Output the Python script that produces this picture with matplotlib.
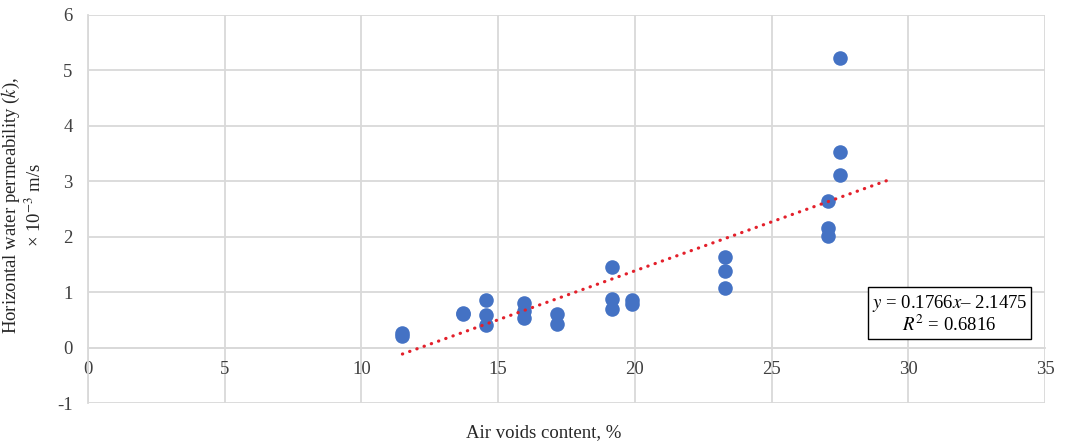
import numpy as np
import matplotlib
matplotlib.use("Agg")
import matplotlib.pyplot as plt

# Air voids content (%) and horizontal permeability (x 10^-3 m/s)
air_voids = [11.5, 11.5, 13.7, 13.7, 14.55, 14.55, 14.55, 15.95, 15.95, 15.95,
             17.15, 17.15, 19.15, 19.15, 19.15, 19.9, 19.9, 23.3, 23.3, 23.3,
             27.05, 27.05, 27.05, 27.5, 27.5, 27.5]
permeability = [0.27, 0.21, 0.63, 0.60, 0.86, 0.59, 0.40, 0.80, 0.66, 0.53,
                0.61, 0.43, 1.46, 0.88, 0.70, 0.86, 0.78, 1.64, 1.38, 1.08,
                2.64, 2.16, 2.01, 5.22, 3.52, 3.11]

# linear trendline as reported on the chart
slope = 0.1766
intercept = -2.1475
r_squared = 0.6816
forecast = 1.9

plt.rcParams['font.family'] = ['Liberation Serif', 'DejaVu Serif']
plt.rcParams['mathtext.fontset'] = 'stix'
plt.rcParams['axes.unicode_minus'] = False

fig = plt.figure(figsize=(10.7, 4.46), dpi=100)
ax = fig.add_axes([0.0822, 0.0964, 0.8944, 0.87])

grid_col = '#d9d9d9'
ax.set_xlim(0, 35)
ax.set_ylim(-1, 6)
ax.set_xticks(np.arange(0, 36, 5))
ax.set_yticks(np.arange(-1, 7, 1))
ax.grid(True, color=grid_col, linewidth=1.3, zorder=0)
ax.set_axisbelow(True)

for side in ['top', 'right']:
    ax.spines[side].set_visible(False)
ax.spines['left'].set_color(grid_col)
ax.spines['left'].set_linewidth(1.3)
ax.spines['bottom'].set_position(('data', 0))
ax.spines['bottom'].set_color(grid_col)
ax.spines['bottom'].set_linewidth(1.3)
ax.tick_params(axis='both', length=0, labelsize=13.5, colors='#404040')
ax.tick_params(axis='y', pad=11)
ax.tick_params(axis='x', pad=10)

ax.scatter(air_voids, permeability, s=110, color='#4472C4', zorder=3, linewidths=0)

x_fit = np.linspace(min(air_voids), max(air_voids) + forecast, 100)
ax.plot(x_fit, slope * x_fit + intercept, color='#E3202B', linewidth=2.3,
        linestyle=(0, (0.1, 2.3)), dash_capstyle='round', zorder=4)

ax.text(0.900, 0.229,
        f"$y$ = {slope}$x$– {abs(intercept)}\n$R^2$ = {r_squared}",
        transform=ax.transAxes, ha='center', va='center', fontsize=13.5,
        linespacing=1.05, zorder=5,
        bbox=dict(boxstyle='square,pad=0.2', fc='white', ec='black', lw=1))

ax.set_ylabel("Horizontal water permeability ($k$),\n× 10$^{−3}$ m/s",
              fontsize=13.5, color='#262626', linespacing=1.15)
ax.yaxis.set_label_coords(-0.045, 0.51)
fig.text(0.508, 0.03, "Air voids content, %", ha='center', va='center',
         fontsize=13.5, color='#262626')

fig.savefig('out.png', dpi=100)
